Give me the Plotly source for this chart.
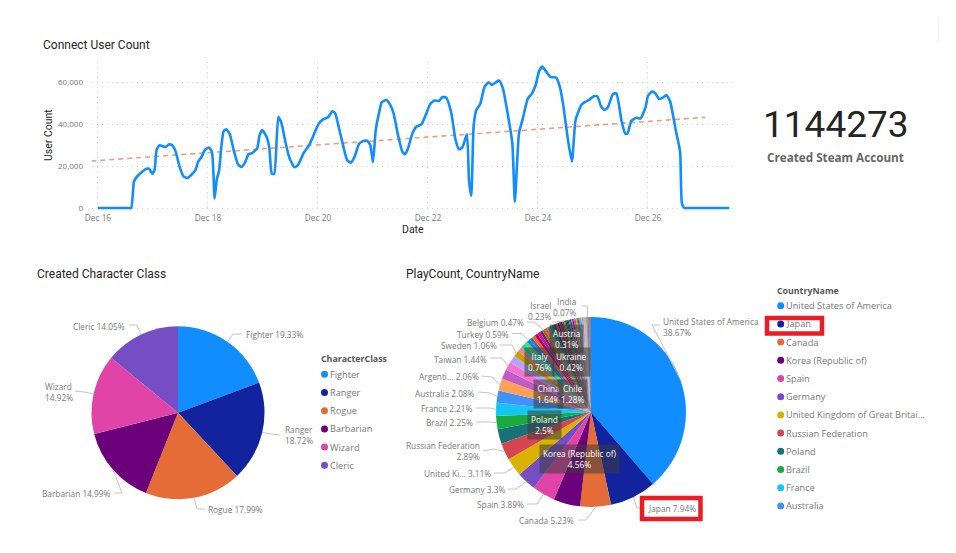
import math

import pandas as pd
import plotly.graph_objects as go

# line chart, hours counted from Dec 16 00:00
user_hours = [0, 7, 13, 14.5, 15.7, 17, 18.9, 21.1, 22.3, 23.7, 24.7, 25.6, 26.9, 29.5, 31, 32.4, 33.9, 35.6, 37.4,
              39.1, 40.7, 42.6, 43.6, 45.1, 46.8, 48.3, 49.7, 50.9, 51.8, 52.9, 53.7, 54.8, 56, 57.5, 59.2, 61.1,
              62.5, 64, 65.7, 67.3, 69.5, 70.5, 71.7, 73.7, 74.8, 75.8, 76.9, 78.7, 80.1, 81.9, 83.6, 85.8, 87.3,
              89.7, 92.4, 94.5, 96.4, 98.2, 100.4, 102.3, 103.4, 104.7, 106.9, 108.7, 110.3, 112, 113.9, 115.6,
              117.4, 118.8, 120, 121.2, 122.6, 123.8, 125.8, 127.6, 129, 130.9, 132.8, 134, 135.3, 137.2, 138.9,
              141.1, 143, 145, 146.9, 148.8, 150.3, 152, 154.2, 155.9, 157.5, 159, 161, 161.9, 162.9, 163.9, 165.1,
              166.8, 168.7, 170.5, 171.9, 175, 176.7, 178.5, 180.8, 181.9, 183.7, 185.2, 187.6, 189.1, 191, 192.4,
              193.9, 195.9, 197.5, 200, 201.5, 202.9, 205.1, 206.8, 208.4, 210.9, 212.4, 214.5, 216.3, 217.9, 219.6,
              221.1, 222.5, 224.7, 226.2, 228.4, 230, 231, 232.7, 234.9, 236.7, 239, 240, 241.8, 243.2, 244.8,
              246.5, 248, 249.7, 252.1, 254, 254.8, 255.9, 257.5, 260, 268, 275.5]
user_count = [0, 0, 0, 0, 12600, 15000, 17000, 18800, 18800, 16400, 18200, 28000, 30000, 29200, 30500, 30000, 27000,
              19800, 15000, 14400, 15800, 18200, 21900, 24300, 28000, 28900, 27100, 4600, 13400, 18200, 27800,
              36700, 37700, 35400, 27800, 20900, 19600, 21400, 25700, 26300, 28600, 34800, 37300, 33800, 28600,
              16600, 16300, 43700, 40500, 31000, 23800, 19500, 20600, 26200, 30600, 36000, 40500, 42400, 43400,
              46300, 45600, 40500, 30200, 23000, 21700, 24600, 30600, 32000, 32200, 30200, 21900, 37300, 45300,
              50600, 51700, 49300, 45300, 35000, 27000, 25700, 28600, 35700, 38900, 40000, 44500, 49800, 51500,
              51200, 53100, 52800, 45300, 33300, 28100, 29000, 35300, 13400, 5900, 38900, 46900, 49800, 58100,
              60200, 58900, 61100, 57300, 46900, 31000, 3000, 35700, 42100, 52500, 54400, 58900, 65300, 67700,
              64800, 62700, 62400, 58100, 50100, 32500, 22200, 42100, 49300, 50700, 51900, 53500, 53500, 48500,
              46900, 48200, 54600, 54900, 42100, 35700, 35600, 41600, 43200, 42800, 48500, 53800, 55700, 54900,
              52200, 52800, 54100, 50900, 37300, 27000, 2200, 0, 0, 0, 0, 0]
trend_hours = [-2.9, 265]
trend_count = [22500, 43400]
date_ticks = ["2023-12-16", "2023-12-18", "2023-12-20", "2023-12-22", "2023-12-24", "2023-12-26"]

steam_accounts = "1144273"

classes = ["Fighter", "Ranger", "Rogue", "Barbarian", "Wizard", "Cleric"]
class_share = [19.33, 18.72, 17.99, 14.99, 14.92, 14.05]

countries = ["United States of America", "Japan", "Canada", "Korea (Republic of)", "Spain", "Germany",
             "United Kingdom of Great Britain", "Russian Federation", "Poland", "Brazil", "France", "Australia",
             "Argentina", "China", "Taiwan", "Chile", "Sweden", "Italy", "Mexico", "Netherlands", "Turkey",
             "Thailand", "Indonesia", "Philippines", "Malaysia", "Vietnam", "Belgium", "Czechia", "Ukraine",
             "Hungary", "Switzerland", "Romania", "Denmark", "Austria", "Finland", "Norway", "Portugal", "Israel",
             "Greece", "Singapore", "New Zealand", "Colombia", "Peru", "Hong Kong", "Ireland", "Slovakia",
             "Saudi Arabia", "Bulgaria", "Croatia", "Lithuania", "South Africa", "Serbia", "Latvia", "Estonia",
             "UAE", "Belarus", "Kazakhstan", "Slovenia", "Costa Rica", "Uruguay", "Ecuador", "Morocco", "India",
             "Egypt", "Pakistan", "Tunisia", "Algeria", "Jordan", "Lebanon", "Qatar", "Kuwait", "Bolivia",
             "Iceland", "Cyprus", "Malta", "Georgia", "Armenia", "Moldova", "Albania", "Bahrain", "Oman",
             "Paraguay", "Panama", "Venezuela", "Guatemala", "Honduras", "Mongolia", "Nepal"]
country_share = [38.67, 7.94, 5.23, 4.56, 3.89, 3.3, 3.11, 2.89, 2.5, 2.25, 2.21, 2.08,
                 2.06, 1.64, 1.44, 1.28, 1.06, 0.76, 0.70, 0.65, 0.59,
                 0.56, 0.54, 0.52, 0.50, 0.48, 0.47, 0.45, 0.42,
                 0.40, 0.38, 0.35, 0.33, 0.31, 0.29, 0.27, 0.25, 0.23,
                 0.22, 0.22, 0.21, 0.21, 0.20, 0.20, 0.19, 0.19,
                 0.18, 0.18, 0.17, 0.17, 0.16, 0.16, 0.15, 0.14,
                 0.13, 0.12, 0.11, 0.10, 0.10, 0.09, 0.08, 0.08, 0.07,
                 0.06, 0.06, 0.05, 0.05, 0.04, 0.04, 0.03, 0.03, 0.03,
                 0.02, 0.02, 0.02, 0.02, 0.02, 0.02, 0.01, 0.01, 0.01,
                 0.01, 0.01, 0.01, 0.01, 0.01, 0.01, 0.01]
legend_countries = ["United States of America", "Japan", "Canada", "Korea (Republic of)", "Spain", "Germany",
                    "United Kingdom of Great Britai...", "Russian Federation", "Poland", "Brazil", "France",
                    "Australia"]

palette = ["#118DFF", "#12239E", "#E66C37", "#6B007B", "#E044A7", "#744EC2", "#D9B300", "#D64550", "#197278",
           "#1AAB40", "#15C6F4", "#4092FF", "#FFA058", "#BE5DC9", "#F472D0", "#B5A1FF", "#C4A200", "#FF8080",
           "#00DBBC", "#5BD667", "#0091D5", "#4668C5", "#FF6300", "#99008A", "#EC008C", "#533285", "#99700A",
           "#FF4141", "#1F9A85", "#25891C", "#0057A2", "#002050", "#C94F0F", "#450F54", "#B60064", "#34124F",
           "#6A5A29", "#1AAB40", "#BA141A", "#0C3D37", "#0B511F"]

W, H = 956, 553
TITLE_FONT = "Roboto"
TEXT_FONT = "Open Sans"
GREY = "#777777"

# centre and radius of the two pies in page pixels
PIE1 = (178, 412.7, 86.5)
PIE2 = (591, 412, 95)

# label layout for the class pie: x, y, xanchor, separator, leader start, leader elbow
class_labels = {
    "Fighter": (246, 334, "left", " ", (242, 334), (233, 334)),
    "Ranger": (285, 435, "left", "<br>", (280, 435), (272, 434)),
    "Rogue": (208, 509, "left", " ", (205, 509), (197, 509)),
    "Barbarian": (111, 493, "right", " ", (114, 493), (122, 493)),
    "Wizard": (45, 392, "left", "<br>", (75, 391), (84, 392)),
    "Cleric": (125, 326, "right", " ", (129, 325), (137, 325)),
}

# same for the labelled countries, last field is a shortened name
country_labels = {
    "United States of America": (663, 327, "left", "<br>", (660, 325), (652, 325), None),
    "Japan": (648, 508.5, "left", " ", (645, 508), (637, 508), None),
    "Canada": (574, 520, "right", " ", (578, 520), (586, 520), None),
    "Spain": (524, 504.5, "right", " ", (527, 504), (537, 504), None),
    "Germany": (505, 489.5, "right", " ", (508, 489), (516, 489), None),
    "United Kingdom of Great Britain": (490.7, 473, "right", " ", (494, 473), (505, 473), "United Ki..."),
    "Russian Federation": (479.7, 451, "right", "<br>", (483, 451), (494, 449), None),
    "Brazil": (472.7, 422.5, "right", " ", (476, 422), (490, 422), None),
    "France": (472.7, 408, "right", " ", (476, 408), (490, 408), None),
    "Australia": (474.7, 393.5, "right", " ", (478, 392), (490, 393), None),
    "Argentina": (479, 376.5, "right", " ", (482, 376), (492, 377), "Argenti..."),
    "Taiwan": (487, 359, "right", " ", (490, 358), (502, 358), None),
    "Sweden": (497, 345.5, "right", " ", (500, 345), (512, 345), None),
    "Turkey": (508.7, 334, "right", " ", (512, 333.5), (522, 333.5), None),
    "Belgium": (524, 322.5, "right", " ", (527, 322), (534, 322), None),
    "Israel": (550.7, 311, "right", "<br>", (552, 322), (556, 322), None),
    "India": (576, 307, "right", "<br>", (581.7, 306), (587.7, 306), None),
}
country_inside = {
    "Korea (Republic of)": (579, 459),
    "Poland": (544.5, 425),
    "China": (548, 393.5),
    "Chile": (572, 394),
    "Italy": (539, 362),
    "Ukraine": (571, 362),
    "Austria": (566, 339),
}


def pie_domain(pie):
    cx, cy, r = pie
    return dict(x=[(cx - r) / W, (cx + r) / W], y=[1 - (cy + r) / H, 1 - (cy - r) / H])


def edge_point(pie, values, index):
    # point on the rim at the middle of a slice, slices run clockwise from 12 o'clock
    cx, cy, r = pie
    frac = (sum(values[:index]) + values[index] / 2) / sum(values)
    return cx + r * math.sin(2 * math.pi * frac), cy - r * math.cos(2 * math.pi * frac)


def add_text(text, x, y, anchor="left", size=8.3, color=GREY, family=TEXT_FONT, **kwargs):
    # annotations carry about 2px of padding around the text
    x += {"left": -2, "right": 2, "center": 0}[anchor]
    annotations.append(dict(text=text, x=x, y=y, xref="x2", yref="y2", xanchor=anchor, yanchor="middle",
                            showarrow=False, align=anchor,
                            font=dict(size=size, color=color, family=family), **kwargs))


def add_leader(start, elbow, end):
    path = f"M {start[0]} {start[1]} L {elbow[0]} {elbow[1]} L {end[0]} {end[1]}"
    shapes.append(dict(type="path", path=path, xref="x2", yref="y2", line=dict(color="#c4c4c4", width=1)))


annotations = []
shapes = []
start_day = pd.Timestamp("2023-12-16")

fig = go.Figure()

# trend first so the blue line sits on top of it
fig.add_trace(go.Scatter(x=start_day + pd.to_timedelta(trend_hours, unit="h"), y=trend_count, mode="lines",
                         line=dict(color="#E66C37", width=1.6, dash="5px,4px"), opacity=0.65, hoverinfo="skip"))
fig.add_trace(go.Scatter(x=start_day + pd.to_timedelta(user_hours, unit="h"), y=user_count, mode="lines",
                         line=dict(color="#118DFF", width=2.6, shape="spline", smoothing=0.5)))

fig.add_trace(go.Pie(labels=classes, values=class_share, sort=False, direction="clockwise", rotation=0,
                     textinfo="none", marker=dict(colors=palette[:6]), domain=pie_domain(PIE1)))
fig.add_trace(go.Pie(labels=countries, values=country_share, sort=False, direction="clockwise", rotation=0,
                     textinfo="none", marker=dict(colors=[palette[i % len(palette)] for i in range(len(countries))]),
                     domain=pie_domain(PIE2)))

# outside labels and leaders
for name, (x, y, anchor, sep, start, elbow) in class_labels.items():
    i = classes.index(name)
    add_text(f"{name}{sep}{class_share[i]}%", x, y, anchor)
    add_leader(start, elbow, edge_point(PIE1, class_share, i))

for name, (x, y, anchor, sep, start, elbow, short) in country_labels.items():
    i = countries.index(name)
    add_text(f"{short or name}{sep}{country_share[i]:g}%", x, y, anchor)
    add_leader(start, elbow, edge_point(PIE2, country_share, i))

for name, (x, y) in country_inside.items():
    i = countries.index(name)
    add_text(f"{name}<br>{country_share[i]:g}%", x, y, "center", color="white",
             bgcolor="rgba(60,60,60,0.55)", borderpad=3)

# titles
add_text("Connect User Count", 43, 45, size=12, color="#252423", family=TITLE_FONT)
add_text("Created Character Class", 37, 274, size=12, color="#252423", family=TITLE_FONT)
add_text("PlayCount, CountryName", 406, 274, size=12, color="#252423", family=TITLE_FONT)

# axis titles as annotations, the built in ones can't be nudged with automargin off
add_text("Date", 413, 229, "center", size=10.5, color="#252423", family=TITLE_FONT)
add_text("User Count", 48, 135, "center", size=10.5, color="#252423", family=TITLE_FONT, textangle=-90)

# card
add_text(steam_accounts, 836, 124.5, "center", size=37, color="#252423", family=TITLE_FONT)
add_text("<b>Created Steam Account</b>", 835, 156.5, "center", size=11.7, color="#666666")

# legends, dots go through a pixel scaled overlay axis
dot_x, dot_y, dot_color = [], [], []
add_text("<b>CharacterClass</b>", 320.5, 359, size=8.8, color="#555555")
for i, name in enumerate(classes):
    y = 374.3 + i * 18.2
    dot_x.append(324.5)
    dot_y.append(y)
    dot_color.append(palette[i])
    add_text(name, 330, y, size=9.2)

add_text("<b>CountryName</b>", 776.5, 291, size=8.8, color="#555555")
for i, name in enumerate(legend_countries):
    y = 305.7 + i * 18.2
    dot_x.append(780.7)
    dot_y.append(y)
    dot_color.append(palette[i])
    add_text(name, 785.5, y, size=9.2)

fig.add_trace(go.Scatter(x=dot_x, y=dot_y, xaxis="x2", yaxis="y2", mode="markers", hoverinfo="skip",
                         marker=dict(size=7, color=dot_color)))

# red highlight boxes and the faint rule in the corner
for x0, y0, x1, y1 in [(767, 318, 822, 333.5), (642, 498, 700.5, 519)]:
    shapes.append(dict(type="rect", x0=x0, y0=y0, x1=x1, y1=y1, xref="x2", yref="y2",
                       line=dict(color="#ED1C24", width=4.5)))
shapes.append(dict(type="line", x0=938.3, y0=17, x1=938.3, y1=42, xref="x2", yref="y2",
                   line=dict(color="#eeeeee", width=1)))

fig.update_layout(
    width=W,
    height=H,
    margin=dict(l=0, r=0, t=0, b=0),
    paper_bgcolor="white",
    plot_bgcolor="rgba(0,0,0,0)",  # a solid one on the overlay axes hides the line chart
    showlegend=False,
    annotations=annotations,
    shapes=shapes,
    xaxis=dict(
        domain=[92 / W, 736 / W],
        range=[start_day + pd.Timedelta(hours=-2.6), start_day + pd.Timedelta(hours=278.4)],
        tickvals=date_ticks,
        tickformat="%b %d",
        tickfont=dict(size=8.3, color=GREY, family=TEXT_FONT),
        ticklabelstandoff=2,
        showgrid=True,
        gridcolor="#d4d4d4",
        griddash="1px,4px",
        zeroline=False,
        ticks="",
        automargin=False,
    ),
    yaxis=dict(
        # two pixels below zero so the thick line is not clipped on the baseline
        domain=[1 - 210 / H, 1 - 62 / H],
        range=[-957, 69900],
        tickvals=[0, 20000, 40000, 60000],
        tickformat=",",
        tickfont=dict(size=8, color=GREY, family=TEXT_FONT),
        ticklabelstandoff=8,
        showgrid=True,
        gridcolor="#d4d4d4",
        griddash="1px,4px",
        zeroline=False,
        ticks="",
        automargin=False,
    ),
    xaxis2=dict(domain=[0, 1], range=[0, W], visible=False, anchor="y2", automargin=False),
    yaxis2=dict(domain=[0, 1], range=[H, 0], visible=False, anchor="x2", automargin=False),
)

fig.write_html("out.html", config={"displayModeBar": False},
               post_script="document.body.style.margin='0';document.body.style.overflow='hidden';")
